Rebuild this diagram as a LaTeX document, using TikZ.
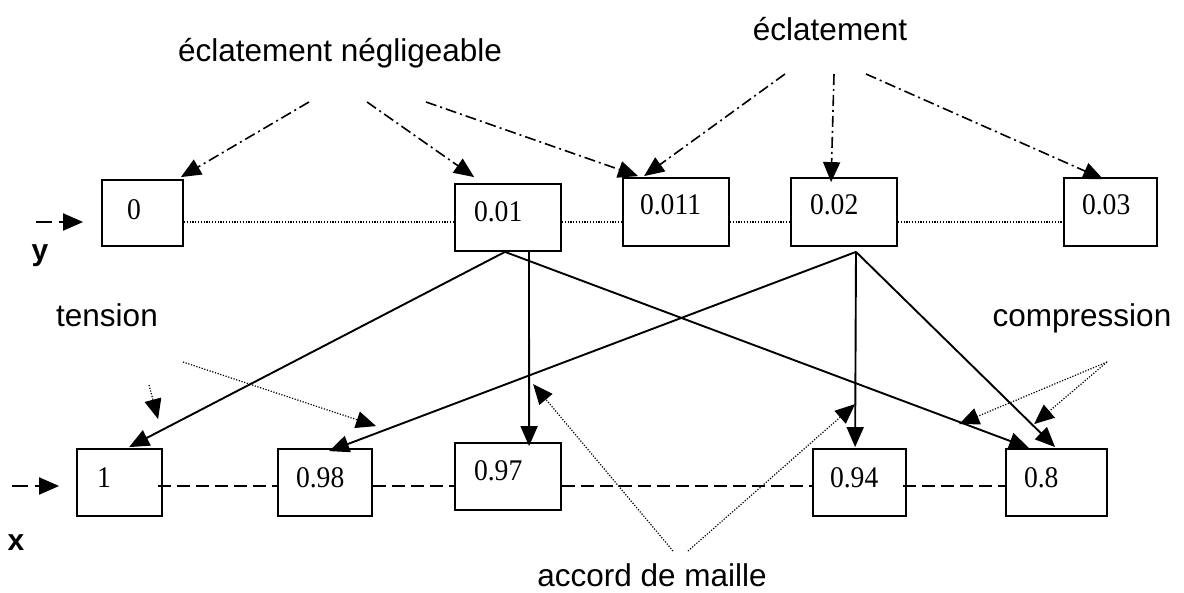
\documentclass[tikz,border=0pt]{standalone}
\usepackage{fontspec}
\setmainfont{Liberation Serif}
\newfontfamily\arialf{Liberation Sans}
\newfontfamily\numf[FakeStretch=0.92]{Liberation Serif}
\usetikzlibrary{arrows.meta,calc}
\newcommand\mybx[3]{\makebox[#1pt][l]{\hspace*{#2pt}#3}}
\begin{document}
\begin{tikzpicture}[x=1pt,y=-1pt,
  bx/.style={draw, line width=1.8pt, fill=white, inner sep=0pt, text depth=0pt, font=\numf\fontsize{30}{34}\selectfont},
  lbl/.style={anchor=base, inner sep=0pt, font=\arialf\fontsize{31.5}{36}\selectfont},
  axl/.style={anchor=base, inner sep=0pt, font=\arialf\bfseries\fontsize{30}{34}\selectfont},
  tip/.style={-{Triangle[length=20pt,width=17pt]}},
  dd/.style={tip, line width=1.6pt, dash pattern=on 11pt off 4pt on 2pt off 4pt},
  sol/.style={tip, line width=1.9pt},
  dot/.style={tip, line width=1.2pt, dash pattern=on 1.2pt off 1.6pt},
  yrow/.style={line width=1.2pt, dash pattern=on 1.2pt off 1.6pt},
  xrow/.style={line width=1.9pt, dash pattern=on 13pt off 6pt},
  axarrow/.style={tip, line width=1.9pt, dash pattern=on 16pt off 7pt}]
\fill[white] (0,0) rectangle (1184,593);
\useasboundingbox (0,0) rectangle (1184,593);

% labels
\node[lbl] (en) at (340,62) {éclatement négligeable};
\node[lbl] (ec) at (830,41) {éclatement};
\node[lbl] (te) at (107,327) {tension};
\node[lbl] (co) at (1082,327) {compression};
\node[lbl] (am) at (652,586) {accord de maille};
\node[axl] (ly) at (40,261) {y};
\node[axl] (lx) at (16,550) {x};

% boxes, y row
\node[bx, minimum width=81pt, minimum height=66pt, text height=14pt] (b0) at (142.5,213) {\mybx{81}{25}{0}};
\node[bx, minimum width=106pt, minimum height=67pt, text height=9pt] (b001) at (508,217.5) {\mybx{106}{19}{0.01}};
\node[bx, minimum width=106pt, minimum height=68pt, text height=6pt] (b0011) at (676,212) {\mybx{106}{17}{0.011}};
\node[bx, minimum width=106pt, minimum height=68pt, text height=6pt] (b002) at (844,212) {\mybx{106}{19}{0.02}};
\node[bx, minimum width=93pt, minimum height=68pt, text height=6pt] (b003) at (1110.5,212) {\mybx{93}{18}{0.03}};
% boxes, x row
\node[bx, minimum width=85pt, minimum height=67pt, text height=11pt] (b1) at (119.5,482.5) {\mybx{85}{20}{1}};
\node[bx, minimum width=94pt, minimum height=67pt, text height=11pt] (b098) at (325,482.5) {\mybx{94}{18}{0.98}};
\node[bx, minimum width=106pt, minimum height=67pt, text height=9pt] (b097) at (508,476.5) {\mybx{106}{19}{0.97}};
\node[bx, minimum width=93pt, minimum height=67pt, text height=11pt] (b094) at (859.5,482.5) {\mybx{93}{17}{0.94}};
\node[bx, minimum width=101pt, minimum height=67pt, text height=11pt] (b08) at (1056.5,482.5) {\mybx{101}{18}{0.8}};

% free ends
\coordinate (ya) at (36,222);
\coordinate (xa) at (12,486);
\coordinate (en1) at (309,102);
\coordinate (en2) at (367,102);
\coordinate (en3) at (426,102);
\coordinate (ec1) at (785,74);
\coordinate (ec2) at (834,74);
\coordinate (ec3) at (866,74);
\coordinate (te1) at (149,385);
\coordinate (te2) at (183,362);
\coordinate (co1) at (1107,362);
\coordinate (am1) at (673,551);
\coordinate (am2) at (688,551);

% rows
\draw[axarrow] (ya) -- ($(b0.west |- ya)+(-18,0)$);
\draw[yrow] (b0.east |- ya) -- (b001.west |- ya);
\draw[yrow] (b001.east |- ya) -- (b0011.west |- ya);
\draw[yrow] (b0011.east |- ya) -- (b002.west |- ya);
\draw[yrow] (b002.east |- ya) -- (b003.west |- ya);

\draw[axarrow] (xa) -- ($(b1.west |- xa)+(-17,0)$);
\draw[xrow] ($(b1.east |- xa)+(-5,0)$) -- (b098.west |- xa);
\draw[xrow] (b098.east |- xa) -- (b097.west |- xa);
\draw[xrow] (b097.east |- xa) -- (b094.west |- xa);
\draw[xrow] ($(b094.east |- xa)+(-4,0)$) -- (b08.west |- xa);

% eclatement arrows
\draw[dd] (en1) -- ([xshift=-3pt,yshift=2pt]b0.north east);
\draw[dd] (en2) -- ([xshift=20pt,yshift=6pt]b001.north west);
\draw[dd] (en3) -- ([xshift=16pt,yshift=1pt]b0011.north west);
\draw[dd] (ec1) -- ([xshift=22pt,yshift=1pt]b0011.north west);
\draw[dd] (ec2) -- ([xshift=41pt,yshift=-5pt]b002.north west);
\draw[dd] (ec3) -- ([xshift=40pt,yshift=-2pt]b003.north west);

% solid arrows
\coordinate (s1) at ([xshift=-3pt]b001.south);
\coordinate (s1v) at ([xshift=21pt]b001.south);
\coordinate (s2) at ([xshift=12pt,yshift=-5pt]b002.south);
\draw[sol] (s1) -- ([xshift=53pt,yshift=1pt]b1.north west);
\draw[sol] (s1v) -- ([xshift=75pt,yshift=-4pt]b097.north west);
\draw[sol] (s1) -- ([xshift=24pt]b08.north west);
\draw[sol] (s2) -- ([xshift=52pt,yshift=-3pt]b098.north west);
\draw[sol] (s2) -- ([xshift=43pt,yshift=1pt]b094.north west);
\draw[sol] (s2) -- ([xshift=50pt,yshift=1pt]b08.north west);

% dotted arrows
\draw[dot] (te1) -- ([xshift=82pt,yshift=29pt]b1.north west);
\draw[dot] (te2) -- ([xshift=99pt,yshift=22pt]b098.north west);
\draw[dot] (co1) -- ([xshift=-46pt,yshift=24pt]b08.north west);
\draw[dot] (co1) -- ([xshift=29pt,yshift=24pt]b08.north west);
\draw[dot] (am1) -- ([xshift=79pt,yshift=58pt]b097.north west);
\draw[dot] (am2) -- ([xshift=43pt,yshift=44pt]b094.north west);
\end{tikzpicture}
\end{document}
